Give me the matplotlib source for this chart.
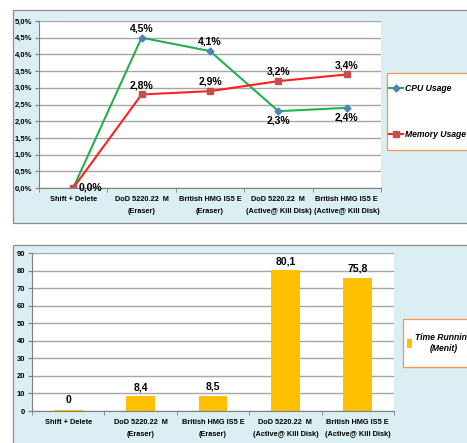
import matplotlib.pyplot as plt
from matplotlib.patches import Rectangle
from matplotlib.ticker import FuncFormatter

# Data
categories = ["Shift + Delete", "DoD 5220.22  M\n(Eraser)", "British HMG IS5 E\n(Eraser)",
              "DoD 5220.22  M\n(Active@ Kill Disk)", "British HMG IS5 E\n(Active@ Kill Disk)"]
cpu_usage = [0.0, 4.5, 4.1, 2.3, 2.4]
memory_usage = [0.0, 2.8, 2.9, 3.2, 3.4]
time_running = [0.8, 8.4, 8.5, 80.1, 75.8]
time_labels = ["0", "8,4", "8,5", "80,1", "75,8"]

plt.rcParams["font.family"] = ["Liberation Sans", "DejaVu Sans"]

panel_bg = "#dbeef4"
grid_col = "#a6a6a6"
fig = plt.figure(figsize=(4.67, 4.43), dpi=100)
W, H = 467, 443

def px_box(x0, y0, x1, y1):
    return [x0 / W, 1 - y1 / H, (x1 - x0) / W, (y1 - y0) / H]

def fig_rect(x0, y0, x1, y1, face, edge, z):
    b = px_box(x0, y0, x1, y1)
    fig.patches.append(Rectangle((b[0], b[1]), b[2], b[3], transform=fig.transFigure,
                                 facecolor=face, edgecolor=edge, linewidth=0.9, zorder=z))

# light blue chart panels behind the axes
fig_rect(13, 10, 470, 223, panel_bg, "#8c8c8c", -10)
fig_rect(13, 245, 470, 446, panel_bg, "#8c8c8c", -10)
# legend boxes
fig_rect(387, 73, 480, 150, "white", "#f79646", -5)
fig_rect(403, 319, 480, 367, "white", "#f79646", -5)

def style_axes(ax):
    ax.set_facecolor("white")
    for s in ["top", "right"]:
        ax.spines[s].set_visible(False)
    for s in ["left", "bottom"]:
        ax.spines[s].set_color("#7f7f7f")
        ax.spines[s].set_linewidth(0.8)
    ax.yaxis.grid(True, color=grid_col, linewidth=1.0)
    ax.set_axisbelow(True)
    ax.tick_params(axis="y", labelsize=5.5, length=3, color="#7f7f7f", pad=2)
    ax.tick_params(axis="x", labelsize=5.3, length=0, pad=6)
    for t in ax.get_yticklabels():
        t.set_fontweight("bold")
    ax.set_xlim(-0.5, len(categories) - 0.5)
    ax.set_xticks(range(len(categories)))
    ax.set_xticklabels(categories, fontweight="bold", linespacing=1.9)
    ax.set_xticks([i + 0.5 for i in range(-1, len(categories))], minor=True)
    ax.tick_params(axis="x", which="minor", length=3, color="#7f7f7f")

# Top: CPU / Memory usage
ax1 = fig.add_axes(px_box(39, 21, 381, 188))
ax1.plot(range(5), cpu_usage, color="#22b14c", linewidth=1.5, marker="D",
         markersize=3.5, markerfacecolor="#4f81bd", markeredgecolor="#4f81bd", label="CPU Usage")
ax1.plot(range(5), memory_usage, color="#ff2020", linewidth=1.5, marker="s",
         markersize=5, markerfacecolor="#c0504d", markeredgecolor="#c0504d", label="Memory Usage")
ax1.set_ylim(0, 5)
ax1.set_yticks([i * 0.5 for i in range(11)])
ax1.yaxis.set_major_formatter(FuncFormatter(lambda v, p: f"{v:.1f}%".replace(".", ",")))
style_axes(ax1)

lab_fs = 7.5
for i, v in enumerate(cpu_usage):
    txt = f"{v:.1f}%".replace(".", ",")
    if i == 0:
        ax1.annotate(txt, (i, v), xytext=(4, 0), textcoords="offset points",
                     ha="left", va="center", fontsize=lab_fs, fontweight="bold")
    elif v > memory_usage[i]:
        ax1.annotate(txt, (i, v), xytext=(0, 3), textcoords="offset points",
                     ha="center", va="bottom", fontsize=lab_fs, fontweight="bold")
    else:
        ax1.annotate(txt, (i, v), xytext=(0, -3), textcoords="offset points",
                     ha="center", va="top", fontsize=lab_fs, fontweight="bold")
for i, v in enumerate(memory_usage):
    if i == 0:
        continue
    txt = f"{v:.1f}%".replace(".", ",")
    ax1.annotate(txt, (i, v), xytext=(0, 3), textcoords="offset points",
                 ha="center", va="bottom", fontsize=lab_fs, fontweight="bold")

leg1 = ax1.legend(loc="center left", bbox_to_anchor=(389 / W, 1 - 111.5 / H),
                  bbox_transform=fig.transFigure,
                  prop={"weight": "bold", "style": "italic", "size": 6.2},
                  frameon=False, labelspacing=4.3, handlelength=1.6,
                  handletextpad=0.25, borderpad=0, borderaxespad=0)

# Bottom: Time running
ax2 = fig.add_axes(px_box(32, 253, 394, 411))
ax2.bar(range(5), time_running, width=0.4, color="#ffc000", label="Time Running\n(Menit)")
ax2.set_ylim(0, 90)
ax2.set_yticks(range(0, 91, 10))
style_axes(ax2)
for i, v in enumerate(time_running):
    ax2.annotate(time_labels[i], (i, v), xytext=(0, 3), textcoords="offset points",
                 ha="center", va="bottom", fontsize=lab_fs, fontweight="bold")

leg2 = ax2.legend(loc="center left", bbox_to_anchor=(407 / W, 1 - 343 / H),
                  bbox_transform=fig.transFigure,
                  prop={"weight": "bold", "style": "italic", "size": 6.2},
                  frameon=False, handlelength=0.6, handleheight=1.1,
                  handletextpad=0.35, borderpad=0, borderaxespad=0)
for t in leg2.get_texts():
    t.set_multialignment("center")

fig.savefig("out.png", dpi=100)
